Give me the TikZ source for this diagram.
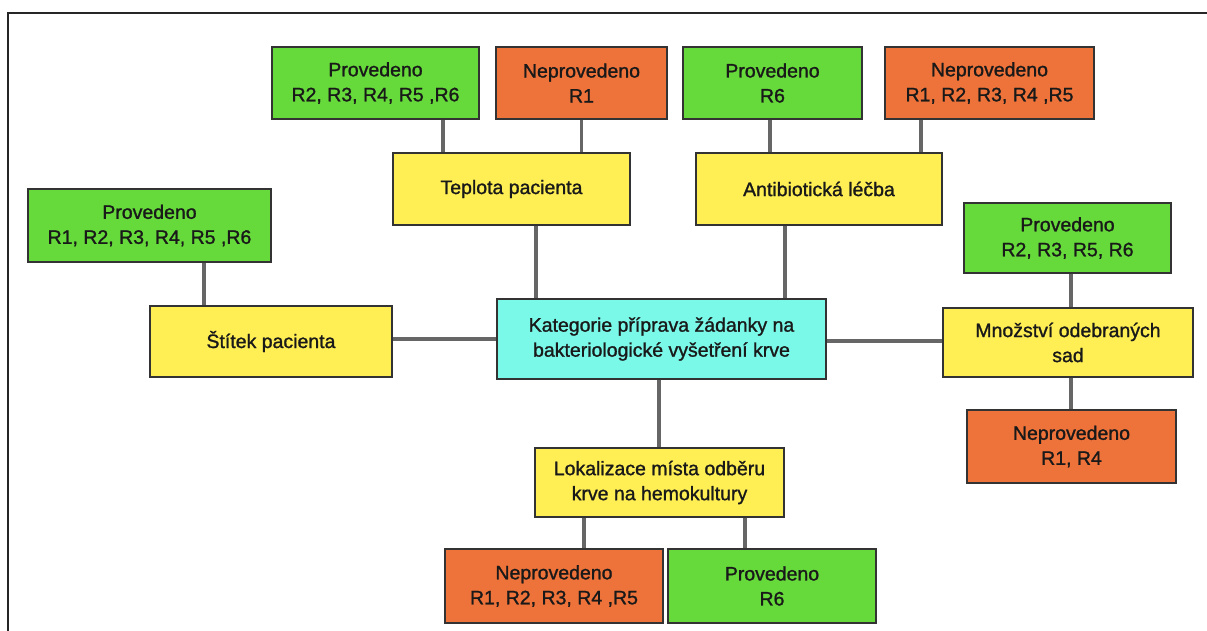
\documentclass[tikz,border=0pt]{standalone}
\usepackage{fontspec}
\setmainfont{Liberation Sans}
\newfontfamily\medfont{Liberation Sans}[BoldFont=*, BoldFeatures={FakeBold=1.2}]
\begin{document}
\begin{tikzpicture}[x=1pt,y=-1pt,
  box/.style={draw=black!80, line width=1.3pt, inner sep=0pt, align=center,
    font=\medfont\bfseries\fontsize{19.5}{25}\selectfont, text=black!90},
  prov/.style={box, fill=provgreen},
  neprov/.style={box, fill=neprovorange},
  cat/.style={box, fill=catyellow},
  main/.style={box, fill=maincyan},
  conn/.style={draw=black!60, line width=3.2pt}]
\definecolor{provgreen}{HTML}{66D93B}
\definecolor{neprovorange}{HTML}{EE733A}
\definecolor{catyellow}{HTML}{FFEF55}
\definecolor{maincyan}{HTML}{7AF8E8}
\useasboundingbox (0,0) rectangle (1207,631);
\draw[line width=2pt, black!85] (8,631) -- (8,13) -- (1207,13);

\node[prov, minimum width=207pt, minimum height=72pt] (g1) at (375.5,83) {Provedeno\\R2, R3, R4, R5 ,R6};
\node[neprov, minimum width=171pt, minimum height=72pt] (o1) at (581.5,83) {Neprovedeno\\R1};
\node[cat, minimum width=237pt, minimum height=72pt] (tep) at (511.5,189) {Teplota pacienta};
\node[prov, minimum width=179pt, minimum height=72pt] (g2) at (772.5,83) {Provedeno\\R6};
\node[neprov, minimum width=209pt, minimum height=72pt] (o2) at (989.5,83) {Neprovedeno\\R1, R2, R3, R4 ,R5};
\node[cat, minimum width=246pt, minimum height=72pt] (abx) at (819,189) {Antibiotická léčba};
\node[prov, minimum width=243pt, minimum height=73pt] (g3) at (149.5,225.5) {Provedeno\\R1, R2, R3, R4, R5 ,R6};
\node[cat, minimum width=242pt, minimum height=71pt] (sti) at (271,341.5) {Štítek pacienta};
\node[main, minimum width=329pt, minimum height=80pt] (cen) at (661.5,339) {Kategorie příprava žádanky na\\bakteriologické vyšetření krve};
\node[prov, minimum width=207pt, minimum height=70pt] (g4) at (1067.5,238) {Provedeno\\R2, R3, R5, R6};
\node[cat, minimum width=250pt, minimum height=69pt] (mno) at (1068,342.5) {Množství odebraných\\sad};
\node[neprov, minimum width=209pt, minimum height=73pt] (o4) at (1071.5,446.5) {Neprovedeno\\R1, R4};
\node[cat, minimum width=249pt, minimum height=69pt] (lok) at (659.5,482.5) {Lokalizace místa odběru\\krve na hemokultury};
\node[neprov, minimum width=218pt, minimum height=74pt] (o5) at (554,586) {Neprovedeno\\R1, R2, R3, R4 ,R5};
\node[prov, minimum width=208pt, minimum height=74pt] (g5) at (772,586) {Provedeno\\R6};

\draw[conn] (g1.south -| 443,0) -- (tep.north -| 443,0);
\draw[conn] (o1.south) -- (tep.north -| o1.south);
\draw[conn] (tep.south -| 536,0) -- (cen.north -| 536,0);
\draw[conn] (g2.south -| 770,0) -- (abx.north -| 770,0);
\draw[conn] (o2.south -| 921,0) -- (abx.north -| 921,0);
\draw[conn] (abx.south -| 785,0) -- (cen.north -| 785,0);
\draw[conn] (g3.south -| 204,0) -- (sti.north -| 204,0);
\draw[conn] (sti.east |- 0,339) -- (cen.west |- 0,339);
\draw[conn] (cen.east |- 0,341) -- (mno.west |- 0,341);
\draw[conn] (g4.south -| 1071,0) -- (mno.north -| 1071,0);
\draw[conn] (mno.south -| 1071,0) -- (o4.north -| 1071,0);
\draw[conn] (cen.south -| 659,0) -- (lok.north -| 659,0);
\draw[conn] (lok.south -| 584,0) -- (o5.north -| 584,0);
\draw[conn] (lok.south -| 745,0) -- (g5.north -| 745,0);
\end{tikzpicture}
\end{document}
